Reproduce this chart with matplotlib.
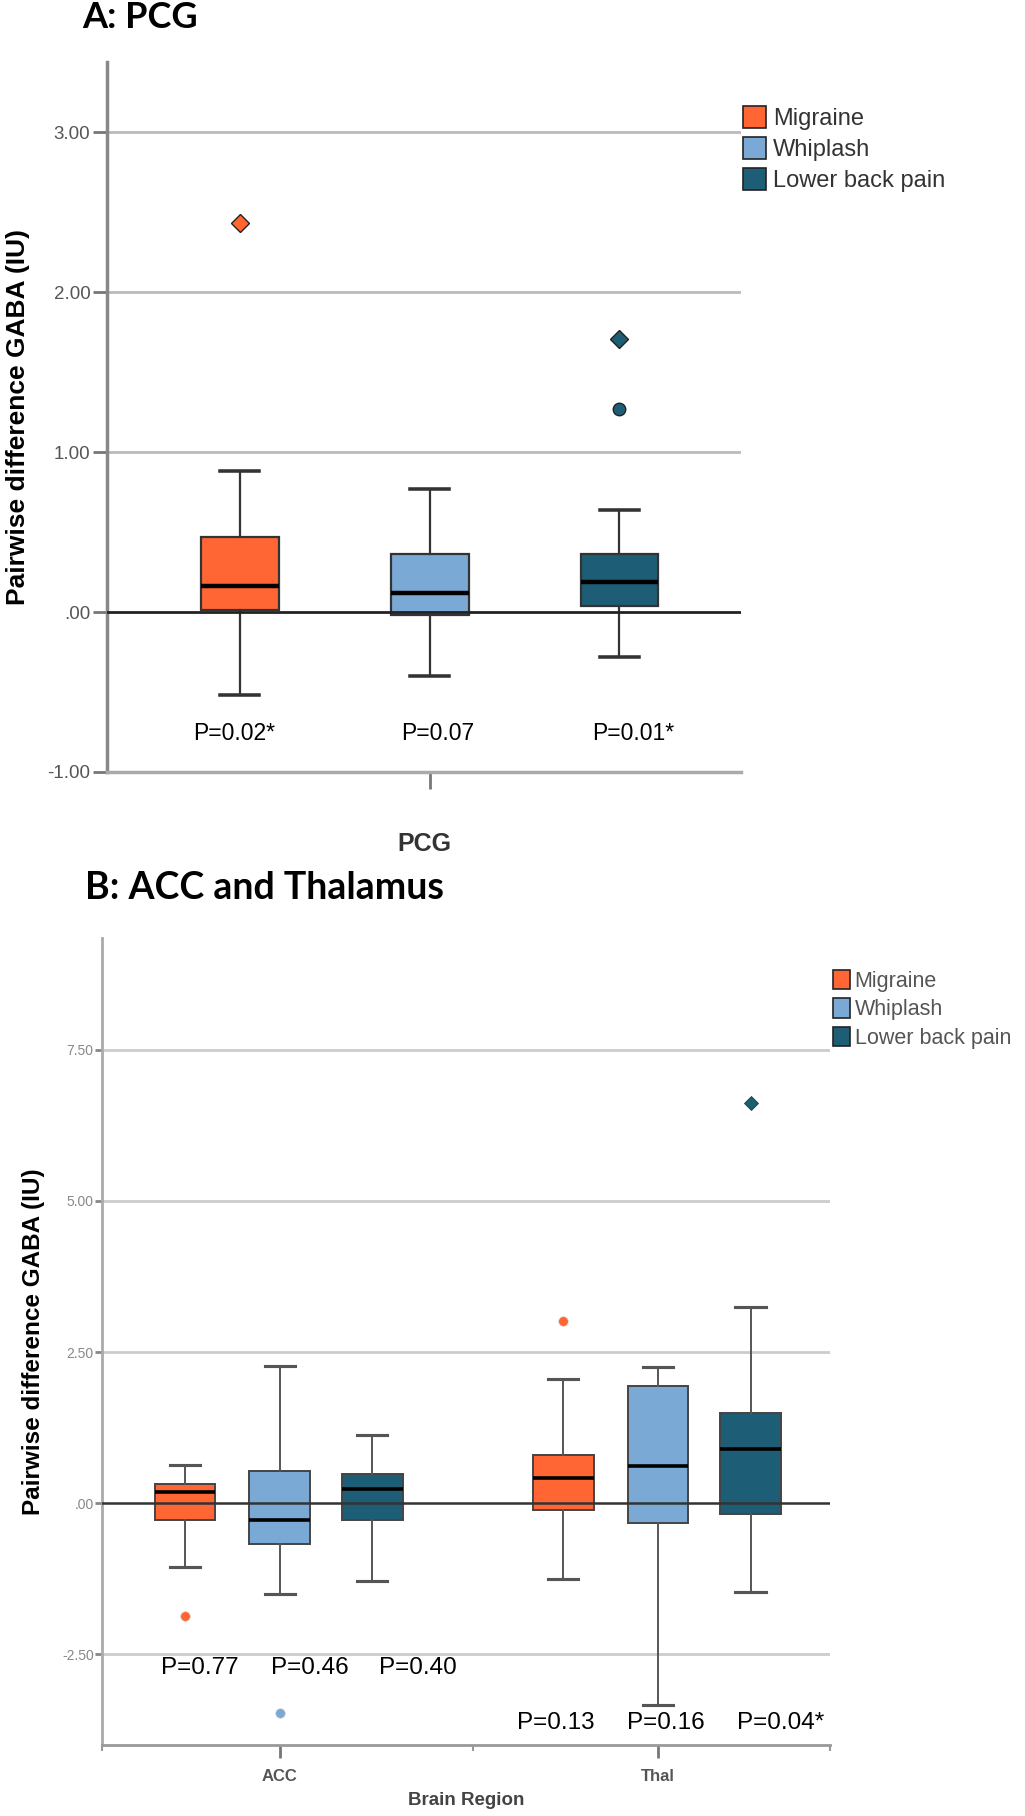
import matplotlib
matplotlib.use('Agg')
import matplotlib.pyplot as plt
from matplotlib.patches import Patch

plt.rcParams['font.family'] = ['Liberation Sans', 'DejaVu Sans']

groups = ['Migraine', 'Whiplash', 'Lower back pain']
colors = ['#FF6633', '#7BA9D6', '#1D5E76']

# A: PCG  (one box per group)
pcg_whishi = [0.88, 0.77, 0.64]
pcg_q3 = [0.47, 0.36, 0.36]
pcg_med = [0.16, 0.12, 0.19]
pcg_q1 = [0.01, -0.02, 0.04]
pcg_whislo = [-0.52, -0.40, -0.28]
pcg_extremes = [[2.43], [], [1.71]]
pcg_outliers = [[], [], [1.27]]
pcg_p = ['P=0.02*', 'P=0.07', 'P=0.01*']

# B: ACC and Thalamus
regions = ['ACC', 'Thal']
b_whishi = {'ACC': [0.63, 2.27, 1.13], 'Thal': [2.05, 2.26, 3.25]}
b_q3 = {'ACC': [0.31, 0.53, 0.49], 'Thal': [0.79, 1.94, 1.49]}
b_med = {'ACC': [0.19, -0.28, 0.24], 'Thal': [0.42, 0.61, 0.89]}
b_q1 = {'ACC': [-0.28, -0.67, -0.28], 'Thal': [-0.12, -0.33, -0.18]}
b_whislo = {'ACC': [-1.05, -1.51, -1.29], 'Thal': [-1.26, -3.34, -1.47]}
b_extremes = {'ACC': [[], [], []], 'Thal': [[], [], [6.62]]}
b_outliers = {'ACC': [[-1.87], [-3.47], []], 'Thal': [[3.02], [], []]}
b_p = {'ACC': ['P=0.77', 'P=0.46', 'P=0.40'], 'Thal': ['P=0.13', 'P=0.16', 'P=0.04*']}
b_p_level = {'ACC': -2.72, 'Thal': -3.64}


def draw_boxes(ax, positions, lo, q1, med, q3, hi, width, edge, whisk, lw, medlw):
  stats = []
  for i in range(len(positions)):
    stats.append({'whislo': lo[i], 'q1': q1[i], 'med': med[i], 'q3': q3[i], 'whishi': hi[i], 'fliers': []})
  bp = ax.bxp(stats, positions=positions, widths=width, capwidths=width * 0.5,
              patch_artist=True, showfliers=False, manage_ticks=False,
              boxprops=dict(edgecolor=edge, linewidth=lw),
              whiskerprops=dict(color=whisk, linewidth=lw),
              capprops=dict(color=whisk, linewidth=lw * 1.6),
              medianprops=dict(color='black', linewidth=medlw))
  for patch, c in zip(bp['boxes'], colors):
    patch.set_facecolor(c)
    patch.set_zorder(2)
  for m in bp['medians']:
    m.set_zorder(5)


fig = plt.figure(figsize=(10.25, 18.16), dpi=100)

# ---------------- A: PCG ----------------
ax1 = fig.add_axes([0.1044, 0.5749, 0.6185, 0.3910])
pos_a = [-1.0, 0.0, 1.0]
draw_boxes(ax1, pos_a, pcg_whislo, pcg_q1, pcg_med, pcg_q3, pcg_whishi, 0.41,
           '#333333', '#333333', 1.6, 3.2)
for i, x in enumerate(pos_a):
  for v in pcg_extremes[i]:
    ax1.plot(x, v, marker='D', ms=9, color=colors[i], mec='#222222', mew=1, zorder=6)
  for v in pcg_outliers[i]:
    ax1.plot(x, v, marker='o', ms=9, color=colors[i], mec='#222222', mew=1, zorder=6)
p_shift_a = [-0.03, 0.04, 0.07]
for i, x in enumerate(pos_a):
  ax1.text(x + p_shift_a[i], -0.76, pcg_p[i], ha='center', va='center', fontsize=16.5)

ax1.set_xlim(-1.70, 1.64)
ax1.set_ylim(-1.0, 3.44)
ax1.set_yticks([3, 2, 1, 0, -1])
ax1.set_yticklabels(['3.00', '2.00', '1.00', '.00', '-1.00'], fontsize=13.5, color='#555555')
ax1.set_xticks([0])
ax1.set_xticklabels([''])
ax1.tick_params(axis='y', length=10, width=2, color='#777777', pad=2)
ax1.tick_params(axis='x', length=12, width=2, color='#777777')
for y in [1, 2, 3]:
  ax1.axhline(y, color='#BBBBBB', lw=2, zorder=0)
ax1.axhline(0, color='#222222', lw=2, zorder=3)
for s in ['top', 'right']:
  ax1.spines[s].set_visible(False)
ax1.spines['left'].set_color('#888888')
ax1.spines['left'].set_linewidth(2.5)
ax1.spines['bottom'].set_color('#AAAAAA')
ax1.spines['bottom'].set_linewidth(2.5)
ax1.set_ylabel('Pairwise difference GABA (IU)', fontsize=19, fontweight='bold')
ax1.yaxis.set_label_coords(-0.122, 0.5)
ax1.set_xlabel('PCG', fontsize=18, fontweight='bold', color='#333333', labelpad=28)

handles = [Patch(facecolor=c, edgecolor='#222222', lw=1.2) for c in colors]
leg1 = fig.legend(handles, groups, loc='upper left', bbox_to_anchor=(0.725, 1 - 106 / 1816),
                  frameon=False, fontsize=17, handlelength=0.95, handleheight=1.05,
                  handletextpad=0.3, labelspacing=0.3, borderpad=0, borderaxespad=0)
for t in leg1.get_texts():
  t.set_color('#333333')

fig.text(82 / 1025, 1 - 17 / 1816, 'A: PCG', family='Lato', fontweight='bold',
         fontsize=26, va='center', ha='left')

# ---------------- B: ACC and Thalamus ----------------
ax2 = fig.add_axes([0.0995, 0.0391, 0.7102, 0.4444])
offsets = [-0.25, 0.0, 0.245]
p_shift_b = {'ACC': [0.04, 0.08, 0.12], 'Thal': [-0.02, 0.02, 0.08]}
for r, region in enumerate(regions):
  pos = [r + o for o in offsets]
  draw_boxes(ax2, pos, b_whislo[region], b_q1[region], b_med[region], b_q3[region],
             b_whishi[region], 0.16, '#444444', '#555555', 1.4, 2.6)
  for i, x in enumerate(pos):
    for v in b_extremes[region][i]:
      ax2.plot(x, v, marker='D', ms=7, color=colors[i], mec='#333333', mew=0.6, zorder=6)
    for v in b_outliers[region][i]:
      ax2.plot(x, v, marker='o', ms=7, color=colors[i], mec='#dddddd', mew=0.5, zorder=6)
    ax2.text(x + p_shift_b[region][i], b_p_level[region], b_p[region][i],
             ha='center', va='center', fontsize=17.5)

ax2.set_xlim(-0.47, 1.455)
ax2.set_ylim(-4.0, 9.35)
ax2.set_yticks([7.5, 5, 2.5, 0, -2.5])
ax2.set_yticklabels(['7.50', '5.00', '2.50', '.00', '-2.50'], fontsize=10, color='#888888')
ax2.set_xticks([0, 1])
ax2.set_xticklabels(regions, fontsize=12, fontweight='bold', color='#555555')
ax2.set_xticks([-0.47, 0.51, 1.455], minor=True)
ax2.tick_params(axis='y', length=5, width=2, color='#888888', pad=1)
ax2.tick_params(axis='x', which='major', length=9, width=2, color='#777777', pad=8)
ax2.tick_params(axis='x', which='minor', length=4, width=1.5, color='#999999')
for y in [-2.5, 2.5, 5, 7.5]:
  ax2.axhline(y, color='#CCCCCC', lw=2, zorder=0)
ax2.axhline(0, color='#333333', lw=1.8, zorder=3)
for s in ['top', 'right']:
  ax2.spines[s].set_visible(False)
ax2.spines['left'].set_color('#AAAAAA')
ax2.spines['left'].set_linewidth(2)
ax2.spines['bottom'].set_color('#999999')
ax2.spines['bottom'].set_linewidth(2)
ax2.set_ylabel('Pairwise difference GABA (IU)', fontsize=17.5, fontweight='bold')
ax2.yaxis.set_label_coords(-0.078, 0.5)
ax2.set_xlabel('Brain Region', fontsize=13.5, fontweight='bold', color='#444444', labelpad=6)

leg2 = fig.legend(handles, groups, loc='upper left', bbox_to_anchor=(833 / 1025, 1 - 970 / 1816),
                  frameon=False, fontsize=15.5, handlelength=0.8, handleheight=1.0,
                  handletextpad=0.2, labelspacing=0.3, borderpad=0, borderaxespad=0)
for t in leg2.get_texts():
  t.set_color('#555555')

fig.text(85 / 1025, 1 - 888 / 1816, 'B: ACC and Thalamus', family='Lato', fontweight='bold',
         fontsize=27, va='center', ha='left')

fig.savefig('out.png', dpi=100)
